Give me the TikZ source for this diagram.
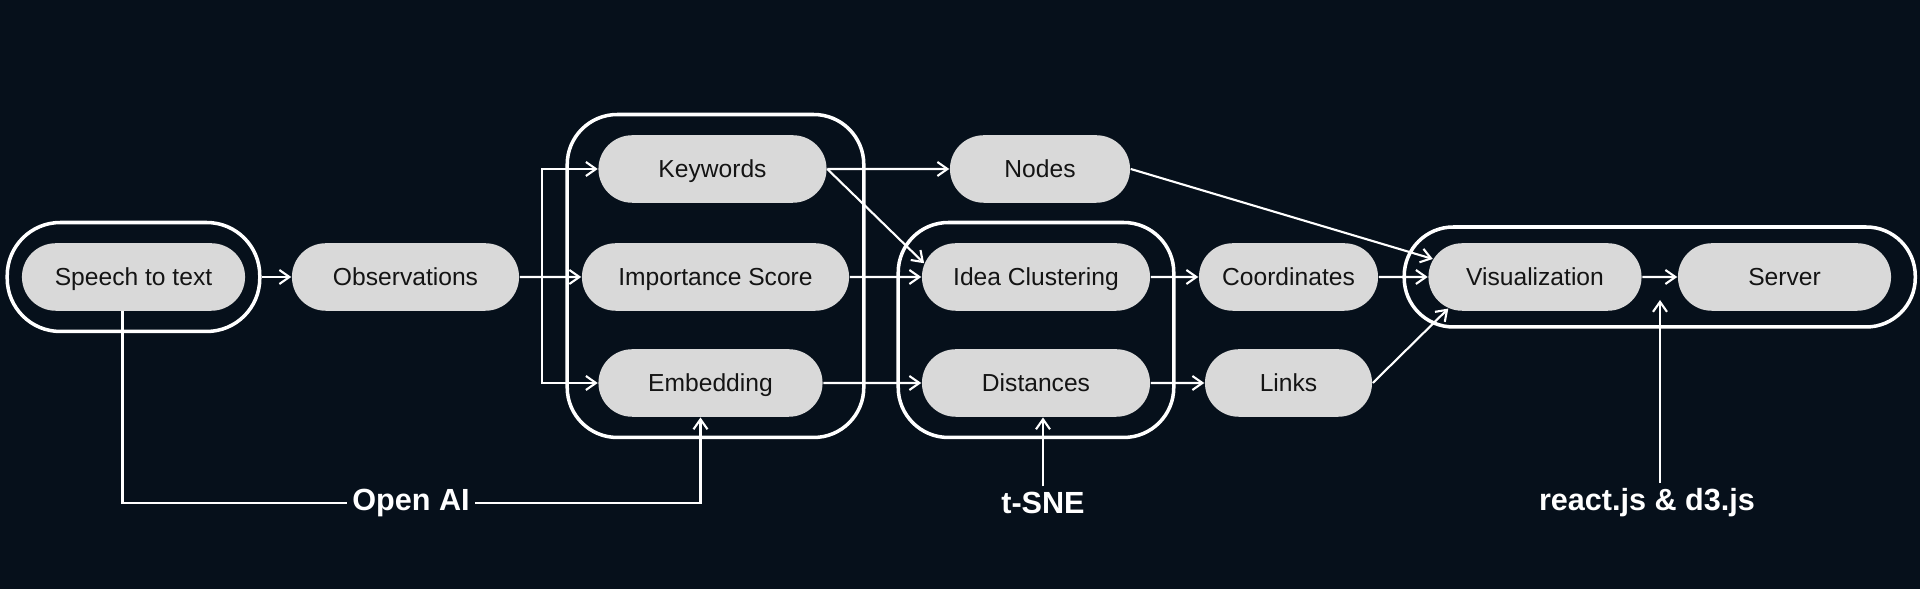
\documentclass[tikz,border=0pt]{standalone}
\usepackage{fontspec}
\setmainfont{Liberation Sans}
\usepackage{tikz}
\usetikzlibrary{arrows.meta, calc, fit, shapes.misc}
\definecolor{bgNavy}{HTML}{06101B}
\definecolor{pillGray}{HTML}{D9D9D9}
\definecolor{inkDark}{HTML}{141414}

\begin{document}
\begin{tikzpicture}[x=0.01cm, y=-0.01cm,
	pill/.style={rounded rectangle, fill=pillGray, text=inkDark, minimum height=0.675cm, inner sep=0pt, text height=5pt, text depth=0.3pt, font=\fontsize{7}{8}\selectfont},
	grp/.style={draw=white, line width=1pt, rounded corners=0.5cm, inner sep=0pt},
	lbl/.style={text=white, inner sep=0.05cm, font=\fontsize{8.7}{10}\selectfont\bfseries},
	conn/.style={white, line width=0.6pt},
	arr/.style={conn, -{Straight Barb[length=1mm, width=1.4mm]}}]
	\fill[bgNavy] (0,0) rectangle (1920,589);
	\useasboundingbox (0,0) rectangle (1920,589);

	\node[pill, minimum width=2.23cm] (stt) at (133.5,277) {Speech to text};
	\node[pill, minimum width=2.27cm] (obs) at (405.5,277) {Observations};
	\node[pill, minimum width=2.28cm] (kw) at (712.5,169) {Keywords};
	\node[pill, minimum width=2.67cm] (imp) at (715.5,277) {Importance Score};
	\node[pill, minimum width=2.24cm] (emb) at (710.5,383) {Embedding};
	\node[pill, minimum width=1.80cm] (nodes) at (1040,169) {Nodes};
	\node[pill, minimum width=2.28cm] (idea) at (1036,277) {Idea Clustering};
	\node[pill, minimum width=2.28cm] (dist) at (1036,383) {Distances};
	\node[pill, minimum width=1.79cm] (coord) at (1288.5,277) {Coordinates};
	\node[pill, minimum width=1.67cm] (links) at (1288.5,383) {Links};
	\node[pill, minimum width=2.13cm] (vis) at (1535,277) {Visualization};
	\node[pill, minimum width=2.13cm] (srv) at (1784.5,277) {Server};

	% groups
	\node[grp, fit=(stt), inner xsep=0.14cm, inner ysep=0.2cm, rounded corners=0.53cm] (g0) {};
	\node[grp, fit=(kw)(imp)(emb), inner xsep=0.14cm, inner ysep=0.2cm] (g1) {};
	\node[grp, fit=(idea)(dist), inner xsep=0.23cm, inner ysep=0.2cm] (g2) {};
	\node[grp, fit=(vis)(srv), inner xsep=0.235cm, inner ysep=0.155cm, rounded corners=0.49cm] (g3) {};

	\node[lbl] (oai) at (411,503) {Open AI};
	\node[lbl] (tsne) at (1043,503) {t-SNE};
	\node[lbl] (react) at (1647,503) {react.js \& d3.js};
	\coordinate (br) at (542,277);
	\coordinate (rtip) at (1660,300);

	\draw[arr] (g0.east) -- (obs.west);
	\draw[arr] (obs) -- (imp);
	\draw[arr] (br) |- (kw.west);
	\draw[arr] (br) |- (emb.west);
	\draw[arr] (kw) -- (nodes);
	\draw[arr] (kw.east) -- (idea.173);
	\draw[arr] (imp) -- (idea);
	\draw[arr] (emb) -- (dist);
	\draw[arr] (idea) -- (coord);
	\draw[arr] (dist) -- (links);
	\draw[arr] (nodes.east) -- (vis.170);
	\draw[arr] (coord) -- (vis);
	\draw[arr] (links.east) -- (vis.200);
	\draw[arr] (vis) -- (srv);

	\draw[conn] ([xshift=-0.11cm]stt.south) |- (oai);
	\draw[arr] (oai) -| ([xshift=-0.1cm]emb.south);
	\draw[arr] (tsne) -- (tsne |- dist.south);
	\draw[arr] (react.north -| rtip) -- (rtip);

\end{tikzpicture}
\end{document}
